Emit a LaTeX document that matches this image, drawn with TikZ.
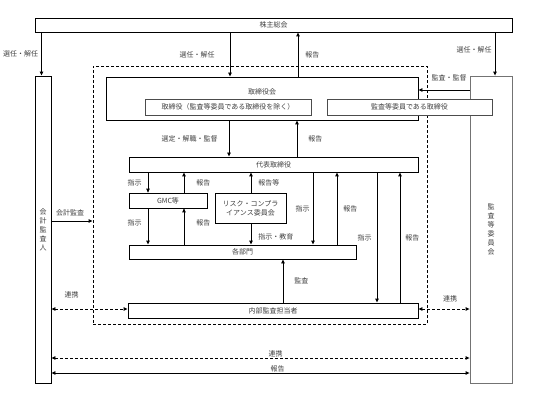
\documentclass[tikz,border=0pt]{standalone}
\usepackage{fontspec}
\newfontfamily\jpfont{Noto Sans CJK JP}
\usetikzlibrary{arrows.meta}

\begin{document}
\begin{tikzpicture}[x=1pt, y=-1pt, >={Triangle[length=4pt,width=3.5pt]},
  font=\jpfont\fontsize{7}{9}\selectfont]

% Fix the canvas to the size of the chart
\useasboundingbox (0,0) rectangle (551,414);

% Define styles for organs, members and labels
\tikzstyle{organ} = [draw, line width=0.9pt, inner sep=0pt, fill=white, text=black!75]
\tikzstyle{member} = [draw=black!70, line width=0.6pt, inner sep=0pt, fill=white, text=black!75]
\tikzstyle{groupframe} = [draw, dashed, dash pattern=on 3pt off 2pt, line width=0.9pt, inner sep=0pt]
\tikzstyle{lbl} = [inner sep=1pt, text=black!75]

%Flechas continuas y de enlace discontinuas
\tikzstyle{flow} = [line width=0.9pt]
\tikzstyle{liaison} = [line width=0.9pt, dash pattern=on 3pt off 2pt]

% Group of the company
\node[groupframe, minimum width=334pt, minimum height=258pt] (grupo) at (260,195) {};

% Organs
\node[organ, minimum width=477pt, minimum height=14pt] (kabu) at (273.5,25) {株主総会};
\node[organ, minimum width=16pt, minimum height=307pt, align=center] (kaikei) at (43,229.5)
  {会\\計\\監\\査\\人};
\node[organ, draw=black!55, line width=0.8pt, minimum width=42pt, minimum height=307pt, align=center]
  (kansa) at (491,229.5) {監\\査\\等\\委\\員\\会};
\node[organ, minimum width=312pt, minimum height=43pt] (torikai) at (262,98.5) {};
\node[lbl] (torikaitext) at (262,92) {取締役会};
\node[member, minimum width=166pt, minimum height=16pt] (torishikko) at (228,107)
  {取締役（監査等委員である取締役を除く）};
\node[member, minimum width=165pt, minimum height=16pt] (kansatori) at (409.5,107)
  {監査等委員である取締役};
\node[organ, minimum width=289pt, minimum height=15pt] (daihyo) at (273.5,164.5) {代表取締役};
\node[organ, line width=0.7pt, minimum width=78pt, minimum height=15pt] (gmc) at (168,200.5) {GMC等};
\node[organ, line width=0.7pt, minimum width=71pt, minimum height=30pt, align=center] (risk) at (250.5,208)
  {リスク・コンプラ\\イアンス委員会};
\node[organ, minimum width=227pt, minimum height=14pt] (kakubu) at (242.5,252) {各部門};
\node[organ, minimum width=290pt, minimum height=15pt] (naibu) at (273,310.5) {内部監査担当者};

% Columns of the vertical arrows
\coordinate (c1) at (41.5,0);
\coordinate (c2) at (230,0);
\coordinate (c3) at (298,0);
\coordinate (c4) at (495,0);
\coordinate (c5) at (229,0);
\coordinate (c6) at (297,0);
\coordinate (c7) at (148,0);
\coordinate (c8) at (184,0);
\coordinate (c9) at (251,0);
\coordinate (c10) at (313,0);
\coordinate (c11) at (337,0);
\coordinate (c12) at (377,0);
\coordinate (c13) at (400,0);
\coordinate (c14) at (283,0);

% Rows of the horizontal arrows
\coordinate (r1) at (0,90);
\coordinate (r2) at (0,221);
\coordinate (r3) at (0,309);
\coordinate (r4) at (0,358);
\coordinate (r5) at (0,373);

% Shareholders meeting
\draw[flow,->] (kabu.south -| c1) -- (kaikei.north -| c1) node[lbl, midway, left=2pt]{選任・解任};
\draw[flow,->] (kabu.south -| c2) -- (torikai.north -| c2) node[lbl, midway, left=14pt]{選任・解任};
\draw[flow,->] (torikai.north -| c3) -- (kabu.south -| c3) node[lbl, midway, right=6pt]{報告};
\draw[flow,->] (kabu.south -| c4) -- (kansa.north -| c4) node[lbl, midway, left=2pt, yshift=4pt]{選任・解任};

% Audit and supervision
\draw[flow,->] (kansa.west |- r1) -- (torikai.east |- r1) node[lbl, midway, above=7pt, xshift=5pt]{監査・監督};
\draw[flow,->] (kaikei.east |- r2) -- (grupo.west |- r2) node[lbl, midway, above=3pt, xshift=-2pt]{会計監査};

% Board and representative director
\draw[flow,->] (torikai.south -| c5) -- (daihyo.north -| c5) node[lbl, midway, left=10pt]{選定・解職・監督};
\draw[flow,->] (daihyo.north -| c6) -- (torikai.south -| c6) node[lbl, midway, right=10pt]{報告};

% GMC and committee
\draw[flow,->] (daihyo.south -| c7) -- (gmc.north -| c7) node[lbl, midway, left=5pt]{指示};
\draw[flow,->] (gmc.north -| c8) -- (daihyo.south -| c8) node[lbl, midway, right=11pt]{報告};
\draw[flow,->] (gmc.south -| c7) -- (kakubu.north -| c7) node[lbl, midway, left=5pt, yshift=4pt]{指示};
\draw[flow,->] (kakubu.north -| c8) -- (gmc.south -| c8) node[lbl, midway, right=11pt, yshift=4pt]{報告};
\draw[flow,->] (risk.north -| c9) -- (daihyo.south -| c9) node[lbl, midway, right=6pt]{報告等};
\draw[flow,->] (risk.south -| c9) -- (kakubu.north -| c9) node[lbl, midway, right=6pt, yshift=-3pt]{指示・教育};

% Departments and internal audit
\draw[flow,->] (daihyo.south -| c10) -- (kakubu.north -| c10) node[lbl, midway, left=2pt]{指示};
\draw[flow,->] (kakubu.north -| c11) -- (daihyo.south -| c11) node[lbl, midway, right=5pt]{報告};
\draw[flow,->] (daihyo.south -| c12) -- (naibu.north -| c12) node[lbl, midway, left=4pt]{指示};
\draw[flow,->] (naibu.north -| c13) -- (daihyo.south -| c13) node[lbl, midway, right=4pt]{報告};
\draw[flow,->] (naibu.north -| c14) -- (kakubu.south -| c14) node[lbl, midway, right=10pt]{監査};

% Liaisons
\draw[liaison,<->] (kaikei.east |- r3) -- (naibu.west |- r3) node[lbl, midway, above=9pt, xshift=-18pt]{連携};
\draw[liaison,<->] (naibu.east |- r3) -- (kansa.west |- r3) node[lbl, midway, above=5pt, xshift=6pt]{連携};
\draw[liaison,<->] (kaikei.east |- r4) -- (kansa.west |- r4) node[lbl, midway, above=-1pt, xshift=15pt]{連携};
\draw[flow,<->] (kaikei.east |- r5) -- (kansa.west |- r5) node[lbl, midway, above=-1pt, xshift=17pt]{報告};

\end{tikzpicture}
\end{document}
